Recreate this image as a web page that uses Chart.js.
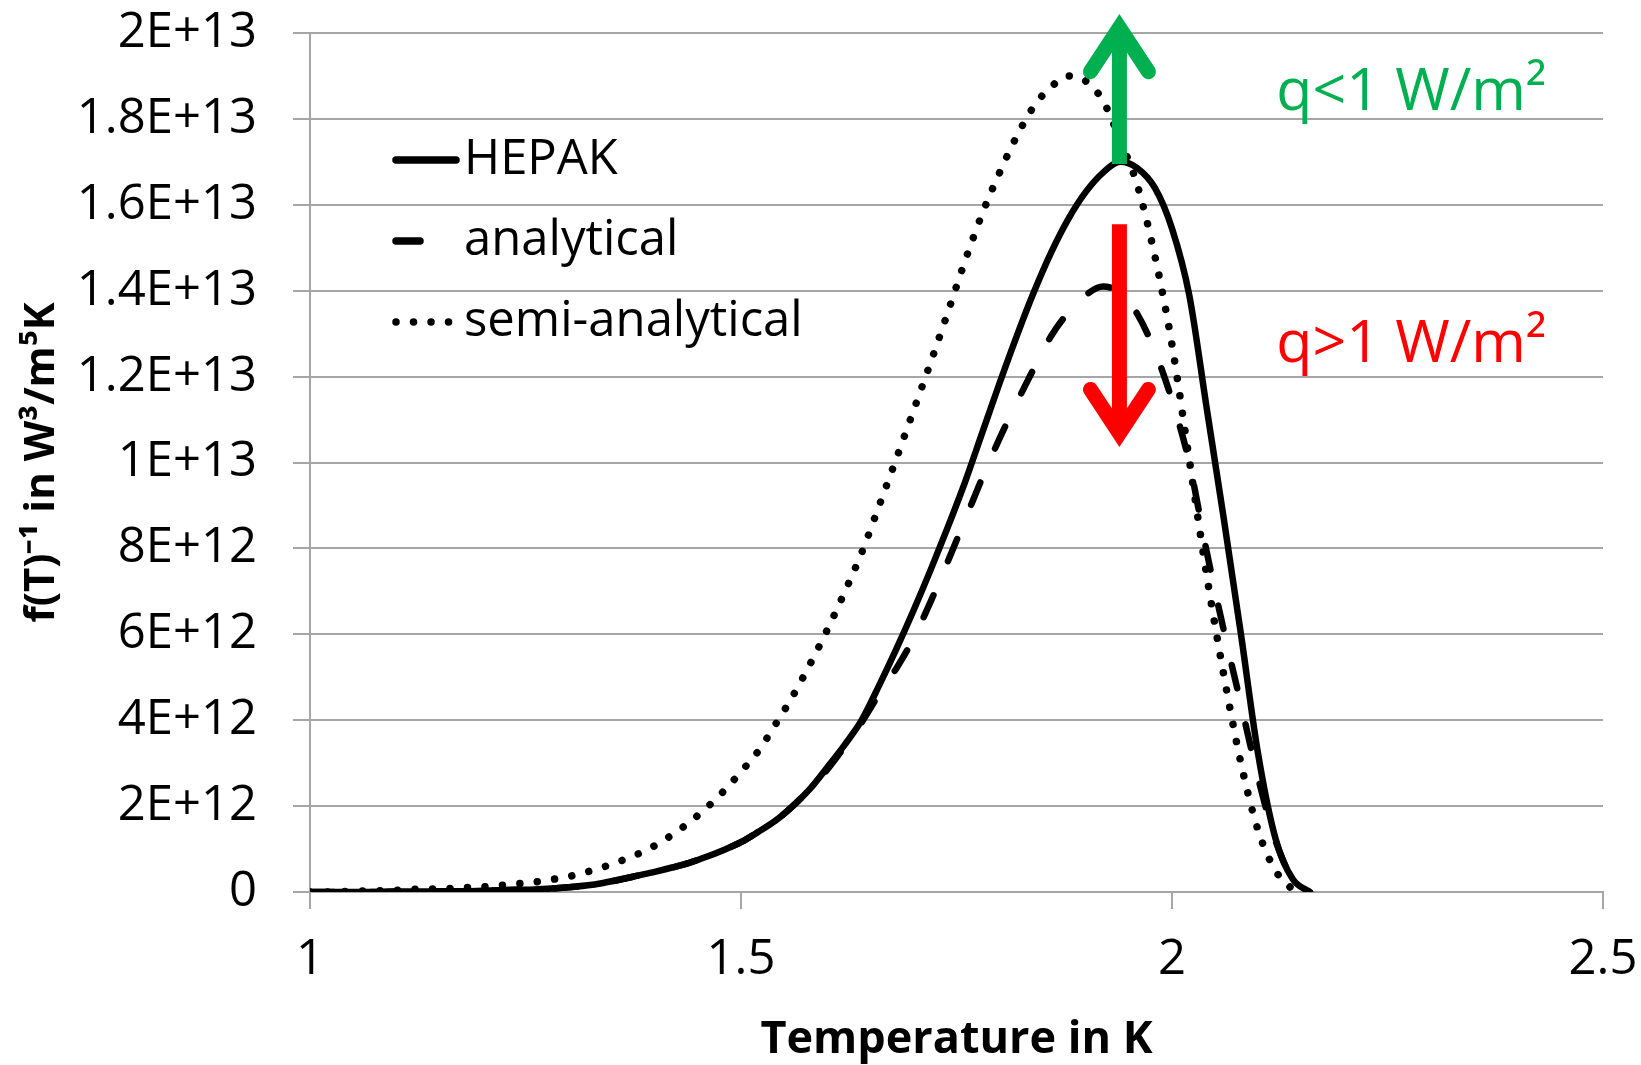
<!DOCTYPE html>
<html>
<head>
<meta charset="utf-8">
<title>f(T)^-1 versus temperature</title>
<script src="https://cdn.jsdelivr.net/npm/chart.js@4.4.1/dist/chart.umd.min.js"></script>
<style>
  html, body { margin: 0; padding: 0; background: #fff; }
  #wrap { width: 1641px; height: 1065px; }
</style>
</head>
<body>
<div id="wrap"><canvas id="myChart"></canvas></div>
<script>
// Temperature in K
const temperature = [
  1.00, 1.02, 1.04, 1.06, 1.08, 1.10, 1.12, 1.14, 1.16, 1.18,
  1.20, 1.22, 1.24, 1.26, 1.28, 1.30, 1.32, 1.34, 1.36, 1.38,
  1.40, 1.42, 1.44, 1.46, 1.48, 1.50, 1.52, 1.54, 1.56, 1.58,
  1.60, 1.62, 1.64, 1.66, 1.68, 1.70, 1.72, 1.74, 1.76, 1.78,
  1.80, 1.82, 1.84, 1.86, 1.88, 1.90, 1.92, 1.94, 1.96, 1.98,
  2.00, 2.02, 2.04, 2.06, 2.08, 2.10, 2.12, 2.14, 2.16
];

// f(T)^-1 in units of 1E+12 W3/m5K
const hepak = [
  0, 0, 0, 0, 0, 0.01, 0.01, 0.01, 0.02, 0.02,
  0.03, 0.04, 0.05, 0.06, 0.08, 0.11, 0.15, 0.21, 0.29, 0.38,
  0.47, 0.57, 0.68, 0.82, 0.98, 1.16, 1.40, 1.66, 2.0, 2.4,
  2.9, 3.42, 4.0, 4.8, 5.65, 6.55, 7.5, 8.5, 9.55, 10.7,
  11.85, 12.95, 13.98, 14.9, 15.68, 16.3, 16.75, 17.0, 16.85, 16.4,
  15.45, 13.9, 11.3, 8.7, 6.0, 3.2, 1.25, 0.3, 0
];

const analytical = [
  0, 0, 0, 0, 0, 0.01, 0.01, 0.01, 0.02, 0.02,
  0.03, 0.04, 0.05, 0.06, 0.08, 0.11, 0.15, 0.21, 0.29, 0.38,
  0.47, 0.57, 0.68, 0.82, 0.98, 1.16, 1.40, 1.66, 2.0, 2.4,
  2.85, 3.38, 3.95, 4.6, 5.2, 5.9, 6.76, 7.7, 8.67, 9.65,
  10.56, 11.4, 12.2, 12.95, 13.5, 13.9, 14.1, 13.95, 13.45, 12.6,
  11.45, 10.0, 7.95, 6.1, 4.37, 2.65, 1.2, 0.3, 0
];

const semiAnalytical = [
  0, 0, 0.01, 0.02, 0.03, 0.04, 0.06, 0.07, 0.08, 0.1,
  0.12, 0.15, 0.19, 0.23, 0.29, 0.36, 0.46, 0.58, 0.72, 0.88,
  1.08, 1.33, 1.62, 1.96, 2.35, 2.8, 3.28, 3.9, 4.56, 5.3,
  6.1, 6.97, 7.9, 8.98, 10.08, 11.2, 12.33, 13.5, 14.7, 15.8,
  16.75, 17.6, 18.3, 18.75, 19.0, 18.88, 18.42, 17.5, 16.44, 14.82,
  12.74, 10.07, 7.41, 5.06, 3.0, 1.43, 0.5, 0.05, null
];

const xTickLabels = ['1', '1.5', '2', '2.5'];
const yTickLabels = ['0', '2E+12', '4E+12', '6E+12', '8E+12', '1E+13',
  '1.2E+13', '1.4E+13', '1.6E+13', '1.8E+13', '2E+13'];

// heat flux arrows: temperature, start, tip (same units as the series)
const upArrow = [1.939, 16.95, 20.45];
const downArrow = [1.939, 15.55, 10.35];

const notes = [
  { text: 'q<1 W/m²', color: '#00b050', t: 2.121, v: 18.21 },
  { text: 'q>1 W/m²', color: '#ff0000', t: 2.121, v: 12.34 }
];

const FONT = '"Open Sans", sans-serif';
const gridColor = '#a6a6a6';

function points(values) {
  return temperature.map((t, i) => ({ x: t, y: values[i] }));
}

// legend drawn inside the plot, top left
const insideLegend = {
  id: 'insideLegend',
  afterDatasetsDraw(chart) {
    const { ctx, chartArea } = chart;
    const x0 = chartArea.left + 83;
    ctx.save();
    chart.data.datasets.forEach((ds, i) => {
      const y = chartArea.top + 127 + i * 81;
      ctx.beginPath();
      ctx.lineWidth = 7.5;
      ctx.lineCap = 'round';
      ctx.setLineDash(ds.borderDash || []);
      ctx.strokeStyle = ds.borderColor;
      ctx.moveTo(x0 + 3, y);
      ctx.lineTo(x0 + 63, y);
      ctx.stroke();
      ctx.setLineDash([]);
      ctx.fillStyle = '#000';
      ctx.font = '49px ' + FONT;
      ctx.textBaseline = 'middle';
      ctx.textAlign = 'left';
      ctx.fillText(ds.label, x0 + 71, y);
    });
    ctx.restore();
  }
};

function drawArrow(chart, arrow, color) {
  const { ctx, scales } = chart;
  const x = scales.x.getPixelForValue(arrow[0]);
  const yFrom = scales.y.getPixelForValue(arrow[1]);
  const yTo = scales.y.getPixelForValue(arrow[2]);
  const dir = yTo < yFrom ? -1 : 1;
  const apex = yTo - dir * 14; // mitred corner reaches yTo
  ctx.save();
  ctx.strokeStyle = color;
  ctx.lineWidth = 15;
  ctx.lineCap = 'butt';
  ctx.beginPath();
  ctx.moveTo(x, yFrom);
  ctx.lineTo(x, apex);
  ctx.stroke();
  ctx.lineCap = 'round';
  ctx.lineJoin = 'miter';
  ctx.miterLimit = 10;
  ctx.beginPath();
  ctx.moveTo(x - 29, apex - dir * 44);
  ctx.lineTo(x, apex);
  ctx.lineTo(x + 29, apex - dir * 44);
  ctx.stroke();
  ctx.restore();
}

const annotations = {
  id: 'annotations',
  afterDatasetsDraw(chart) {
    const { ctx, scales } = chart;
    drawArrow(chart, upArrow, '#00b050');
    drawArrow(chart, downArrow, '#ff0000');
    ctx.save();
    ctx.font = '59px ' + FONT;
    ctx.textBaseline = 'alphabetic';
    ctx.textAlign = 'left';
    notes.forEach(n => {
      ctx.fillStyle = n.color;
      ctx.fillText(n.text, scales.x.getPixelForValue(n.t), scales.y.getPixelForValue(n.v));
    });
    ctx.restore();
  }
};

new Chart(document.getElementById('myChart'), {
  type: 'line',
  data: {
    datasets: [
      {
        label: 'HEPAK',
        data: points(hepak),
        borderColor: '#000',
        borderWidth: 6.5,
        borderCapStyle: 'round',
        borderJoinStyle: 'round'
      },
      {
        label: 'analytical',
        data: points(analytical),
        borderColor: '#000',
        borderWidth: 6.5,
        borderDash: [24, 37],
        borderCapStyle: 'round'
      },
      {
        label: 'semi-analytical',
        data: points(semiAnalytical),
        borderColor: '#000',
        borderWidth: 7.5,
        borderDash: [0.01, 17.5],
        borderCapStyle: 'round'
      }
    ]
  },
  options: {
    responsive: true,
    maintainAspectRatio: false,
    animation: false,
    elements: {
      point: { radius: 0 },
      line: { cubicInterpolationMode: 'monotone', fill: false }
    },
    layout: { padding: { top: 33, right: 38, bottom: 0, left: 0 } },
    plugins: {
      legend: { display: false },
      tooltip: { enabled: false }
    },
    scales: {
      x: {
        type: 'linear',
        min: 1,
        max: 2.5,
        afterFit: scale => {
          scale.height = 173;
          // the layout padding already leaves room for the end labels
          scale.paddingLeft = 0;
          scale.paddingRight = 0;
        },
        ticks: {
          stepSize: 0.5,
          padding: 22,
          color: '#000',
          font: { family: FONT, size: 49 },
          callback: (value, index) => xTickLabels[index]
        },
        grid: { drawOnChartArea: false, tickLength: 17, color: gridColor, lineWidth: 2 },
        border: { color: gridColor, width: 2 },
        title: {
          display: true,
          text: 'Temperature in K',
          color: '#000',
          font: { family: FONT, size: 45, weight: 'bold', lineHeight: 1 },
          padding: { top: 0, bottom: 2 }
        }
      },
      y: {
        type: 'linear',
        min: 0,
        max: 20,
        afterFit: scale => {
          scale.width = 310;
          scale.paddingTop = 0;
          scale.paddingBottom = 0;
        },
        ticks: {
          stepSize: 2,
          padding: 36,
          color: '#000',
          font: { family: FONT, size: 49 },
          callback: (value, index) => yTickLabels[index]
        },
        grid: { tickLength: 17, color: gridColor, lineWidth: 2 },
        border: { color: gridColor, width: 2 },
        title: {
          display: true,
          text: 'f(T)⁻¹ in W³/m⁵K',
          color: '#000',
          font: { family: FONT, size: 42, weight: 'bold' },
          padding: { top: 17, bottom: 0 }
        }
      }
    }
  },
  plugins: [insideLegend, annotations]
});
</script>
</body>
</html>
